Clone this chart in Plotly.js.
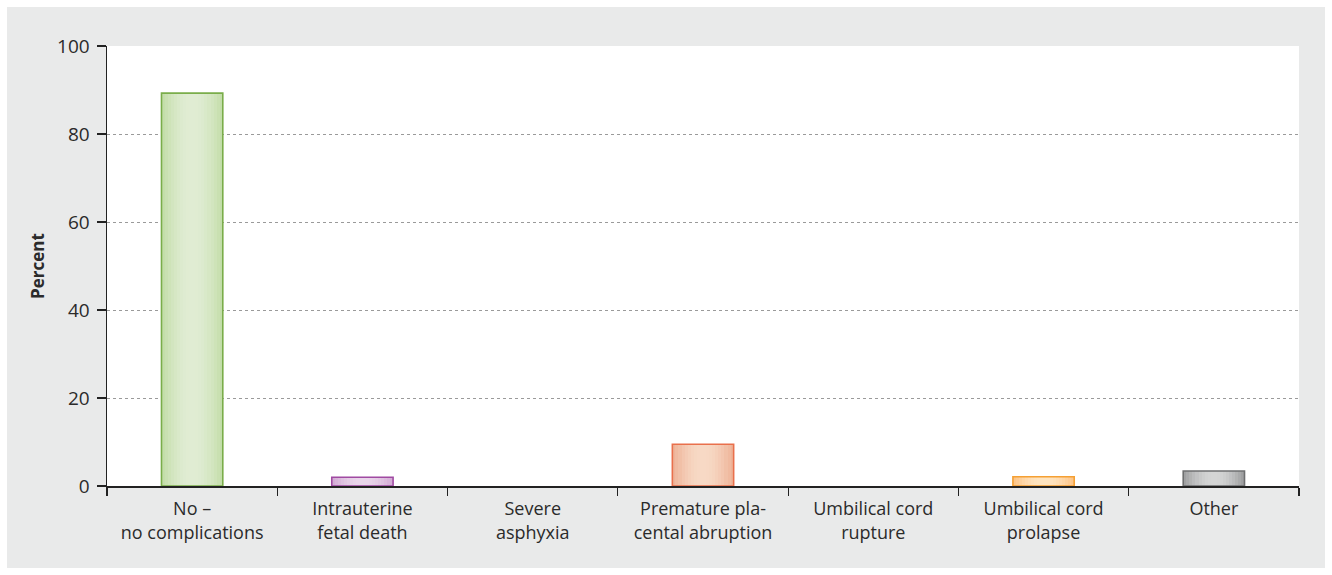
<!DOCTYPE html>
<html>
<head>
<meta charset="utf-8">
<script src="https://cdn.plot.ly/plotly-3.0.1.min.js"></script>
<style>
  html, body { margin: 0; padding: 0; background: #ffffff; }
  #chart { width: 1332px; height: 575px; }
</style>
</head>
<body>
<div id="chart"></div>
<script>
// ---- data ----
const categories = [
  "No –<br>no complications",
  "Intrauterine<br>fetal death",
  "Severe<br>asphyxia",
  "Premature pla-<br>cental abruption",
  "Umbilical cord<br>rupture",
  "Umbilical cord<br>prolapse",
  "Other"
];
const percentValues = [89.3, 2.0, 0, 9.5, 0, 2.1, 3.4];
const yTickValues = [0, 20, 40, 60, 80, 100];

// ---- styles (one entry per category) ----
const edgeFill   = [[196,222,170], [211,172,213], [238,179,152], [238,179,152], [238,179,152], [253,198,138], [160,161,162]];
const centerFill = [[224,236,211], [233,214,234], [247,217,197], [247,217,197], [247,217,197], [254,228,192], [212,213,213]];
const lineColor  = ["#7aad4a", "#a04aa2", "rgba(0,0,0,0)", "#e9704c", "rgba(0,0,0,0)", "#f5a033", "#6e6f70"];

const fontFam = "Open Sans, Noto Sans, sans-serif";
const barW = 0.36;

function mix(a, b, t) {
  return "rgb(" + a.map((v, i) => Math.round(v + (b[i] - v) * t)).join(",") + ")";
}

function fillLayer(frac, t) {
  return {
    type: "bar", x: categories, y: percentValues, width: barW * frac,
    marker: { color: edgeFill.map((c, i) => mix(c, centerFill[i], t)), line: { width: 0 } },
    hoverinfo: "skip", showlegend: false
  };
}

const layerSteps = 10;
const traces = [];
for (let k = 0; k < layerSteps; k++) {
  const frac = 1 - k / layerSteps;
  const t = Math.sin((k / (layerSteps - 1)) * Math.PI / 2);
  traces.push(fillLayer(frac, t));
}
traces.push({
  type: "bar", x: categories, y: percentValues, width: barW,
  marker: { color: "rgba(0,0,0,0)", line: { width: 1.6, color: lineColor } },
  hoverinfo: "skip", showlegend: false
});

// plot area in px: x 107..1299, y 46..486
const L = 107, R = 33, T = 46, B = 89;
const pw = 1332 - L - R, ph = 575 - T - B;
function px2x(p) { return (p - L) / pw; }
function py2y(p) { return (575 - B - p) / ph; }

const layout = {
  width: 1332, height: 575,
  margin: { l: L, r: R, t: T, b: B, pad: 0 },
  paper_bgcolor: "#ffffff",
  plot_bgcolor: "rgba(0,0,0,0)",
  barmode: "overlay",
  bargap: 0,
  font: { family: fontFam, size: 18, color: "#2b2b2b" },
  shapes: [
    { type: "rect", xref: "paper", yref: "paper", layer: "below",
      x0: px2x(7), x1: px2x(1325), y0: py2y(568), y1: py2y(7),
      fillcolor: "#e9eaea", line: { width: 0 } },
    { type: "rect", xref: "paper", yref: "paper", layer: "below",
      x0: 0, x1: 1, y0: 0, y1: 1,
      fillcolor: "#ffffff", line: { width: 0 } }
  ],
  xaxis: {
    type: "category",
    tickson: "boundaries",
    ticks: "outside", ticklen: 8, tickwidth: 1.2, tickcolor: "#222",
    ticklabelstandoff: 6,
    showline: true, linecolor: "#222", linewidth: 1.5,
    showgrid: false, zeroline: false,
    tickfont: { family: fontFam, size: 18, color: "#2b2b2b" },
    range: [-0.5, 6.5],
    fixedrange: true
  },
  yaxis: {
    range: [0, 100],
    tickvals: yTickValues,
    ticktext: yTickValues.map(String),
    ticks: "outside", ticklen: 9, tickwidth: 1.2, tickcolor: "#222",
    ticklabelstandoff: 3,
    showline: true, linecolor: "#222", linewidth: 1.5,
    showgrid: true, gridcolor: "#9a9a9a", gridwidth: 1, griddash: "dot",
    zeroline: false,
    tickfont: { family: fontFam, size: 19, color: "#2b2b2b" },
    title: { text: "<b>Percent</b>", font: { family: fontFam, size: 17, color: "#2b2b2b" }, standoff: 8 },
    fixedrange: true
  }
};

Plotly.newPlot("chart", traces, layout, { displayModeBar: false, staticPlot: true });
</script>
</body>
</html>
